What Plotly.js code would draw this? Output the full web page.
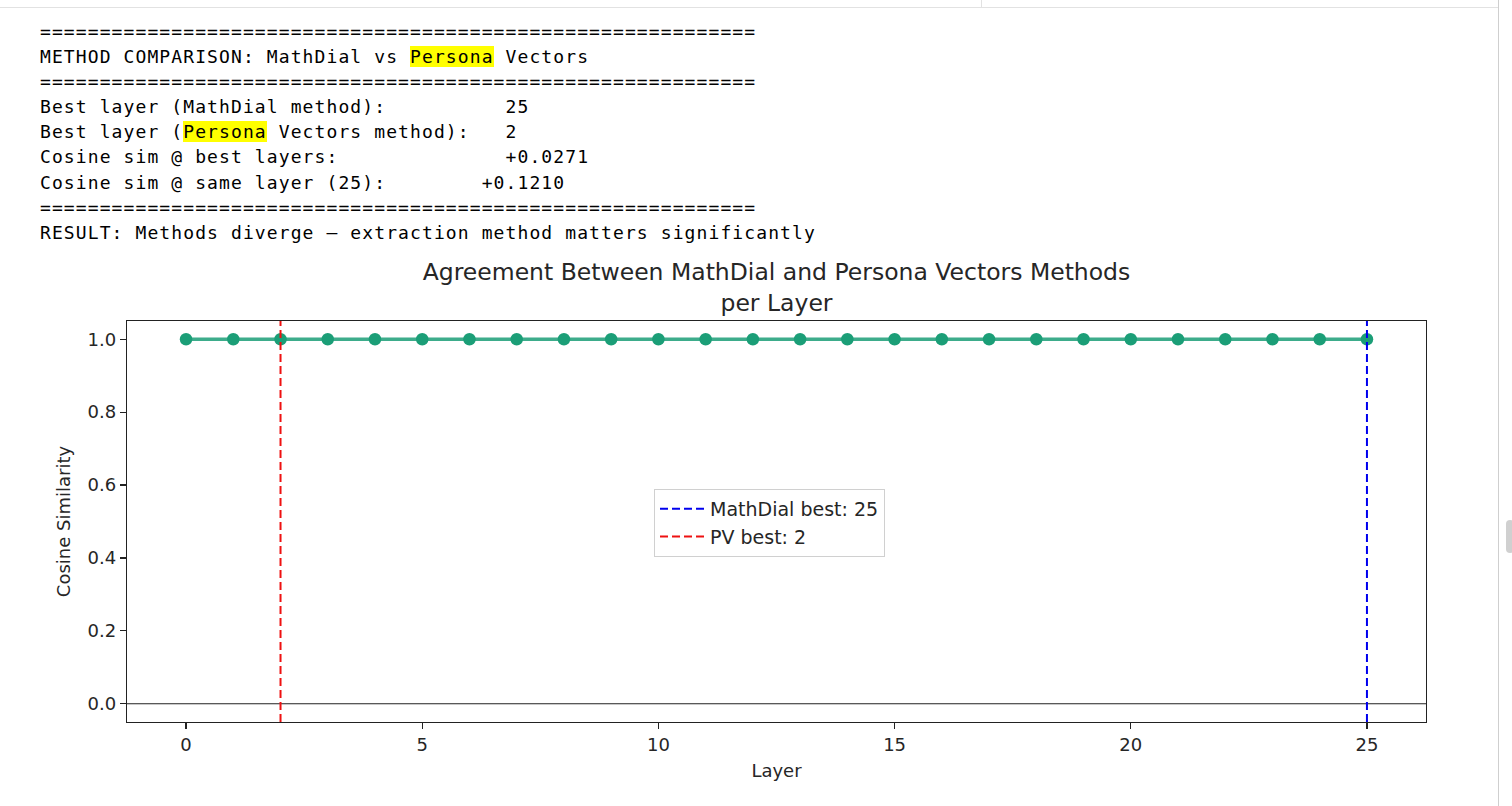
<!DOCTYPE html>
<html>
<head>
<meta charset="utf-8">
<script src="https://cdn.plot.ly/plotly-3.0.1.min.js"></script>
<style>
  html, body { margin: 0; padding: 0; background: #fff; width: 1512px; height: 806px; overflow: hidden; }
  #chart { position: absolute; left: 0; top: 0; width: 1512px; height: 806px; }
  #out {
    position: absolute; left: 40px; top: 19px; margin: 0;
    font-family: "DejaVu Sans Mono", monospace; font-size: 18px; line-height: 25.1px;
    letter-spacing: 1.1px; color: #000; white-space: pre; z-index: 2;
  }
  #out div { height: 25.1px; }
  .hl { background: #ffff00; }
  .topline { position: absolute; left: 0; top: 7px; width: 1498px; height: 1px; background: #e2e2e2; }
  .topv { position: absolute; left: 981px; top: 0; width: 1px; height: 8px; background: #e2e2e2; }
  .rightv { position: absolute; left: 1498px; top: 0; width: 1px; height: 806px; background: #cfcfcf; }
  .thumb { position: absolute; left: 1506px; top: 520px; width: 8px; height: 33px; background: #d0d0d0; border-radius: 4px; }
</style>
</head>
<body>
<div class="topline"></div><div class="topv"></div><div class="rightv"></div><div class="thumb"></div>
<div id="out"></div>
<div id="chart"></div>
<script>
// ---- data ----
const layers = [0,1,2,3,4,5,6,7,8,9,10,11,12,13,14,15,16,17,18,19,20,21,22,23,24,25];
const cosineSim = [1,1,1,1,1,1,1,1,1,1,1,1,1,1,1,1,1,1,1,1,1,1,1,1,1,1];
const bestMathDial = 25;
const bestPV = 2;
const simBest = 0.0271;
const simSame = 0.1210;
const xTicks = [0,5,10,15,20,25];
const yTicks = [0.0,0.2,0.4,0.6,0.8,1.0];

// ---- printed output (each line a list of [text, highlighted]) ----
const sep = "=".repeat(60);
const fmt = v => (v >= 0 ? "+" : "") + v.toFixed(4);
const lines = [
  [[sep, false]],
  [["METHOD COMPARISON: MathDial vs ", false], ["Persona", true], [" Vectors", false]],
  [[sep, false]],
  [["Best layer (MathDial method):          " + bestMathDial, false]],
  [["Best layer (", false], ["Persona", true], [" Vectors method):   " + bestPV, false]],
  [["Cosine sim @ best layers:              " + fmt(simBest), false]],
  [["Cosine sim @ same layer (" + bestMathDial + "):        " + fmt(simSame), false]],
  [[sep, false]],
  [["RESULT: Methods diverge \u2014 extraction method matters significantly", false]]
];
const out = document.getElementById("out");
lines.forEach(parts => {
  const d = document.createElement("div");
  parts.forEach(([t, h]) => {
    const s = document.createElement("span");
    s.textContent = t;
    if (h) s.className = "hl";
    d.appendChild(s);
  });
  out.appendChild(d);
});

// ---- chart ----
const yRange = [-0.05, 1.05];
const font = { family: "DejaVu Sans, sans-serif", color: "#262626" };

const traces = [
  {
    x: layers, y: cosineSim, type: "scatter", mode: "lines+markers",
    line: { color: "rgba(27,158,119,0.85)", width: 3.5 },
    marker: { color: "#1b9e77", size: 12.5 },
    showlegend: false, hoverinfo: "x+y"
  },
  {
    x: [bestMathDial, bestMathDial], y: yRange, type: "scatter", mode: "lines",
    line: { color: "#0000ee", width: 2, dash: "8px,4px" },
    name: "MathDial best: " + bestMathDial
  },
  {
    x: [bestPV, bestPV], y: yRange, type: "scatter", mode: "lines",
    line: { color: "#ee1111", width: 2, dash: "8px,4px" },
    name: "PV best: " + bestPV
  }
];

const layout = {
  width: 1512, height: 806,
  margin: { l: 127, r: 86, t: 321, b: 84 },
  paper_bgcolor: "rgba(0,0,0,0)", plot_bgcolor: "#fff",
  font: Object.assign({ size: 18 }, font),
  title: {
    text: "Agreement Between MathDial and Persona Vectors Methods<br>per Layer",
    font: Object.assign({ size: 23.5 }, font),
    x: 0.5, xref: "paper", xanchor: "center",
    y: 1 - 280 / 806, yref: "container", yanchor: "top"
  },
  xaxis: {
    range: [-1.25, 26.25], tickvals: xTicks, ticks: "outside", ticklen: 6, tickwidth: 1.2,
    tickcolor: "#222", showgrid: false, zeroline: false,
    showline: true, linecolor: "#222", linewidth: 1.3, mirror: true,
    tickfont: Object.assign({ size: 18 }, font),
    title: { text: "Layer", font: Object.assign({ size: 18 }, font), standoff: 10 }
  },
  yaxis: {
    range: yRange, tickvals: yTicks, tickformat: ".1f", ticks: "outside", ticklen: 6, tickwidth: 1.2,
    tickcolor: "#222", showgrid: false, zeroline: false,
    showline: true, linecolor: "#222", linewidth: 1.3, mirror: true,
    tickfont: Object.assign({ size: 18 }, font),
    title: { text: "Cosine Similarity", font: Object.assign({ size: 18 }, font), standoff: 12 }
  },
  shapes: [
    { type: "line", xref: "paper", x0: 0, x1: 1, yref: "y", y0: 0, y1: 0,
      line: { color: "#222", width: 1.2 }, layer: "below" }
  ],
  legend: {
    x: 0.4057, y: 0.581, xanchor: "left", yanchor: "top",
    bgcolor: "rgba(255,255,255,0.9)", bordercolor: "#d0d0d0", borderwidth: 1,
    font: Object.assign({ size: 19 }, font), tracegroupgap: 4, itemwidth: 45
  },
  showlegend: true
};

Plotly.newPlot("chart", traces, layout, { displayModeBar: false, staticPlot: true });
</script>
</body>
</html>
